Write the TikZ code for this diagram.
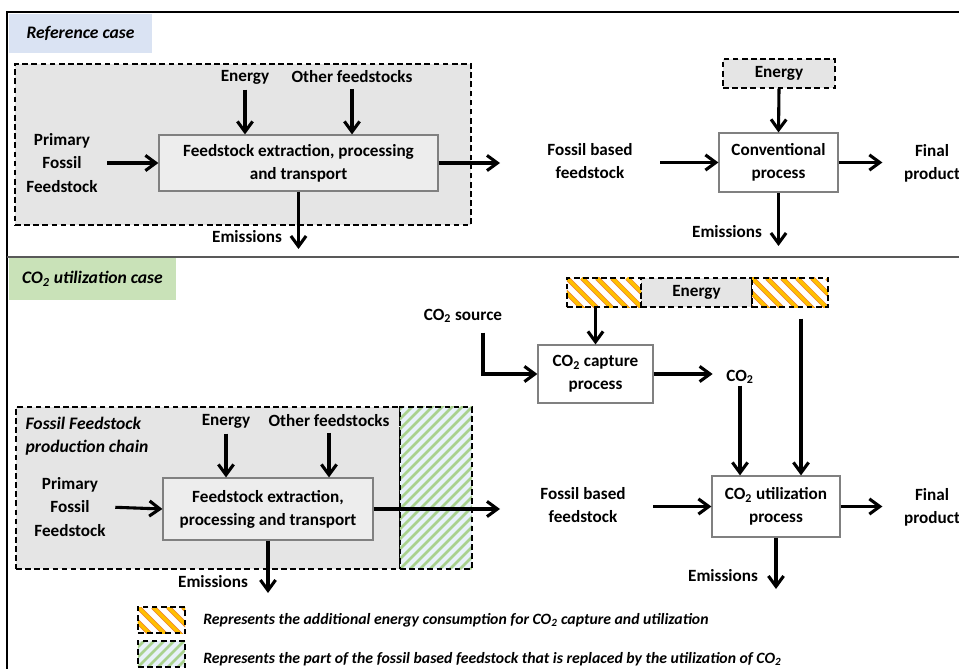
\documentclass[tikz,border=0pt]{standalone}
\usepackage{fontspec}
\setmainfont{Carlito}
\usepackage{tikz}
\usetikzlibrary{arrows.meta, positioning}
\definecolor{refBlue}{HTML}{DAE3F3}
\definecolor{utilGreen}{HTML}{C9E2B8}
\definecolor{chainGrey}{HTML}{E5E5E5}
\definecolor{boxGrey}{HTML}{EDEDED}
\definecolor{edgeGrey}{HTML}{808080}
\definecolor{lineGrey}{HTML}{595959}
\definecolor{hatchYellow}{HTML}{FFC000}
\definecolor{hatchOrange}{HTML}{ED7D31}
\definecolor{hatchGreen}{HTML}{A9D18E}
\definecolor{hatchBack}{HTML}{E8F1FA}
\newcommand{\cotwo}{CO\textsubscript{2}}
\tikzset{
  flow/text/.style     = {font=\fontsize{12.2}{16.4}\selectfont\bfseries, align=center, inner sep=1pt},
  flow/proc/.style     = {flow/text, draw=edgeGrey, line width=0.8pt, fill=white, inner sep=2pt},
  flow/chain/.style    = {draw=black, dash pattern=on 4pt off 2.5pt, line width=0.9pt, fill=chainGrey},
  flow/case/.style     = {flow/text, font=\fontsize{12.5}{16.4}\selectfont\bfseries\itshape},
  flow/key/.style      = {font=\fontsize{11.2}{13}\selectfont\bfseries\itshape, inner sep=1pt},
  flow/extra/.style    = {draw=black, dash pattern=on 4pt off 2.5pt, line width=0.9pt, fill=white,
                          path picture={
                            \foreach \k in {-7,...,6} {
                              \draw[solid, hatchOrange, line width=3.3pt]
                                ([xshift=\k*0.375cm]path picture bounding box.north west) -- ++(2cm,-2cm);
                              \draw[solid, hatchYellow, line width=2.5pt]
                                ([xshift=\k*0.375cm]path picture bounding box.north west) -- ++(2cm,-2cm);
                            }}},
  flow/replaced/.style = {draw=black, dash pattern=on 4pt off 2.5pt, line width=0.9pt, fill=hatchBack,
                          path picture={
                            \foreach \k in {-18,...,8} {
                              \draw[solid, hatchGreen, line width=1.8pt]
                                ([xshift=\k*0.25cm]path picture bounding box.south west) -- ++(5cm,5cm);
                            }}},
  flow/arrow/.style    = {-{Straight Barb[length=2.6mm,width=3.8mm]}, line width=2.2pt, draw=black},
  flow/frame/.style    = {line width=1pt, draw=black},
  flow/divider/.style  = {line width=2pt, draw=lineGrey},
}
\begin{document}
\begin{tikzpicture}[x=0.025cm, y=-0.025cm, every node/.style={flow/text}]
      \useasboundingbox (0,0) rectangle (959,669);
      \draw[flow/frame] (7,669) -- (7,12) -- (959,12);
      \draw[flow/divider] (7,257) -- (959,257);
      % reference case
      \node[flow/case, fill=refBlue, minimum width=3.575cm, minimum height=0.975cm] (refcase) at (80.5,33.5)
            {Reference case};
      \node[flow/chain, minimum width=11.4cm, minimum height=4.025cm] (chain1) at (243,144.5) {};
      \node[flow/proc, fill=boxGrey, minimum width=6.975cm, minimum height=1.4cm] (fe1) at (298.5,163)
            {Feedstock extraction, processing\\and transport};
      \node (en1) at (245,77) {Energy};
      \node (oth1) at (352,77) {Other feedstocks};
      \node (pff1) at (62,163) {Primary\\Fossil\\Feedstock};
      \node (em1) at (247,237) {Emissions};
      \coordinate (em1end) at (298,249);
      \coordinate (out1) at (500,163);
      \node (fbf1) at (590,161) {Fossil based\\feedstock};
      \node[flow/chain, minimum width=2.8cm, minimum height=0.725cm] (en1c) at (779,73.5) {Energy};
      \node[flow/proc, minimum width=2.975cm, minimum height=1.475cm] (conv) at (778.5,162.5)
            {Conventional\\process};
      \node (fin1) at (932,163) {Final\\product};
      \node (em1c) at (727,232) {Emissions};
      \coordinate (em1cend) at (780,246);
      % CO2 utilization case
      \node[flow/case, fill=utilGreen, minimum width=4.175cm, minimum height=1.05cm] (utilcase) at (92.5,279)
            {\cotwo{} utilization case};
      \node[flow/chain, minimum width=2.775cm, minimum height=0.725cm] (en2) at (696.5,292.5) {Energy};
      \node[flow/extra, minimum width=1.85cm, minimum height=0.725cm] (extraL) at (604,292.5) {};
      \node[flow/extra, minimum width=1.9cm, minimum height=0.725cm] (extraR) at (790,292.5) {};
      \node (src) at (463,316) {\cotwo{} source};
      \node[flow/proc, minimum width=2.875cm, minimum height=1.45cm] (capture) at (595.5,374)
            {\cotwo{} capture\\process};
      \node (co2) at (740,377) {\cotwo};
      \node[flow/proc, minimum width=3.2cm, minimum height=1.525cm] (util) at (776,506.5)
            {\cotwo{} utilization\\process};
      \node (fbf2) at (583,505) {Fossil based\\feedstock};
      \node (fin2) at (932,507) {Final\\product};
      \node (em2c) at (723,576) {Emissions};
      \coordinate (em2cend) at (778,589);
      % fossil feedstock chain
      \node[flow/chain, minimum width=9.6cm, minimum height=4.05cm] (chain2) at (208,488) {};
      \node[flow/replaced, minimum width=1.8cm, minimum height=4.05cm] (replaced) at (436,488) {};
      \node[flow/case, anchor=west, align=left] (chainlbl) at (24,436) {Fossil Feedstock\\production chain};
      \node[flow/proc, fill=boxGrey, minimum width=5.25cm, minimum height=1.55cm] (fe2) at (268,509)
            {Feedstock extraction,\\processing and transport};
      \node (en3) at (226,421) {Energy};
      \node (oth2) at (329,421) {Other feedstocks};
      \node (pff2) at (70,507) {Primary\\Fossil\\Feedstock};
      \node (em2) at (213,582) {Emissions};
      \coordinate (em2end) at (265,593);
      \coordinate (out2) at (500,507);
      % legend
      \node[flow/extra, minimum width=1.175cm, minimum height=0.65cm] (keyextra) at (161.5,620) {};
      \node[flow/replaced, minimum width=1.175cm, minimum height=0.65cm] (keyrepl) at (161.5,654) {};
      \node[flow/key, right=4mm of keyextra] (keyextratxt)
            {Represents the additional energy consumption for \cotwo{} capture and utilization};
      \node[flow/key, right=4mm of keyrepl, yshift=-1.25mm] (keyrepltxt)
            {Represents the part of the fossil based feedstock that is replaced by the utilization of \cotwo};
      % arrows
      \draw[flow/arrow, shorten <=1mm] (en1.south) -- (en1.south |- fe1.north);
      \draw[flow/arrow, shorten <=1mm] (oth1.south) -- (oth1.south |- fe1.north);
      \draw[flow/arrow, shorten <=2mm] (pff1.east) -- (fe1.west);
      \draw[flow/arrow] (fe1.east) -- (out1);
      \draw[flow/arrow] (fe1.south) -- (fe1.south |- em1end);
      \draw[flow/arrow, shorten <=6.5mm] (fbf1.east |- conv.west) -- (conv.west);
      \draw[flow/arrow] (en1c.south) -- (conv.north);
      \draw[flow/arrow, shorten >=5mm] (conv.east) -- (fin1.west |- conv.east);
      \draw[flow/arrow] (conv.south) -- (conv.south |- em1cend);
      \draw[flow/arrow, shorten <=2mm] ([xshift=5mm]src.south) |- (capture.west);
      \draw[flow/arrow] (capture.north |- extraL.south) -- (capture.north);
      \draw[flow/arrow, shorten >=3mm] (capture.east) -- (co2.west |- capture.east);
      \draw[flow/arrow] (co2.south) -- (co2.south |- util.north);
      \draw[flow/arrow, shorten <=2.75mm] ([xshift=2.75mm]extraR.south) -- ([xshift=2.75mm]extraR.south |- util.north);
      \draw[flow/arrow, shorten <=6.5mm] (fbf2.east |- util.west) -- (util.west);
      \draw[flow/arrow, shorten >=5mm] (util.east) -- (fin2.west |- util.east);
      \draw[flow/arrow] (util.south) -- (util.south |- em2cend);
      \draw[flow/arrow, shorten <=1mm] (en3.south) -- (en3.south |- fe2.north);
      \draw[flow/arrow, shorten <=1mm] (oth2.south) -- (oth2.south |- fe2.north);
      \draw[flow/arrow, shorten <=2mm] (pff2.east) -- (fe2.west);
      \draw[flow/arrow] (fe2.east) -- (out2 |- fe2.east);
      \draw[flow/arrow] (fe2.south) -- (fe2.south |- em2end);
    \end{tikzpicture}
\end{document}
